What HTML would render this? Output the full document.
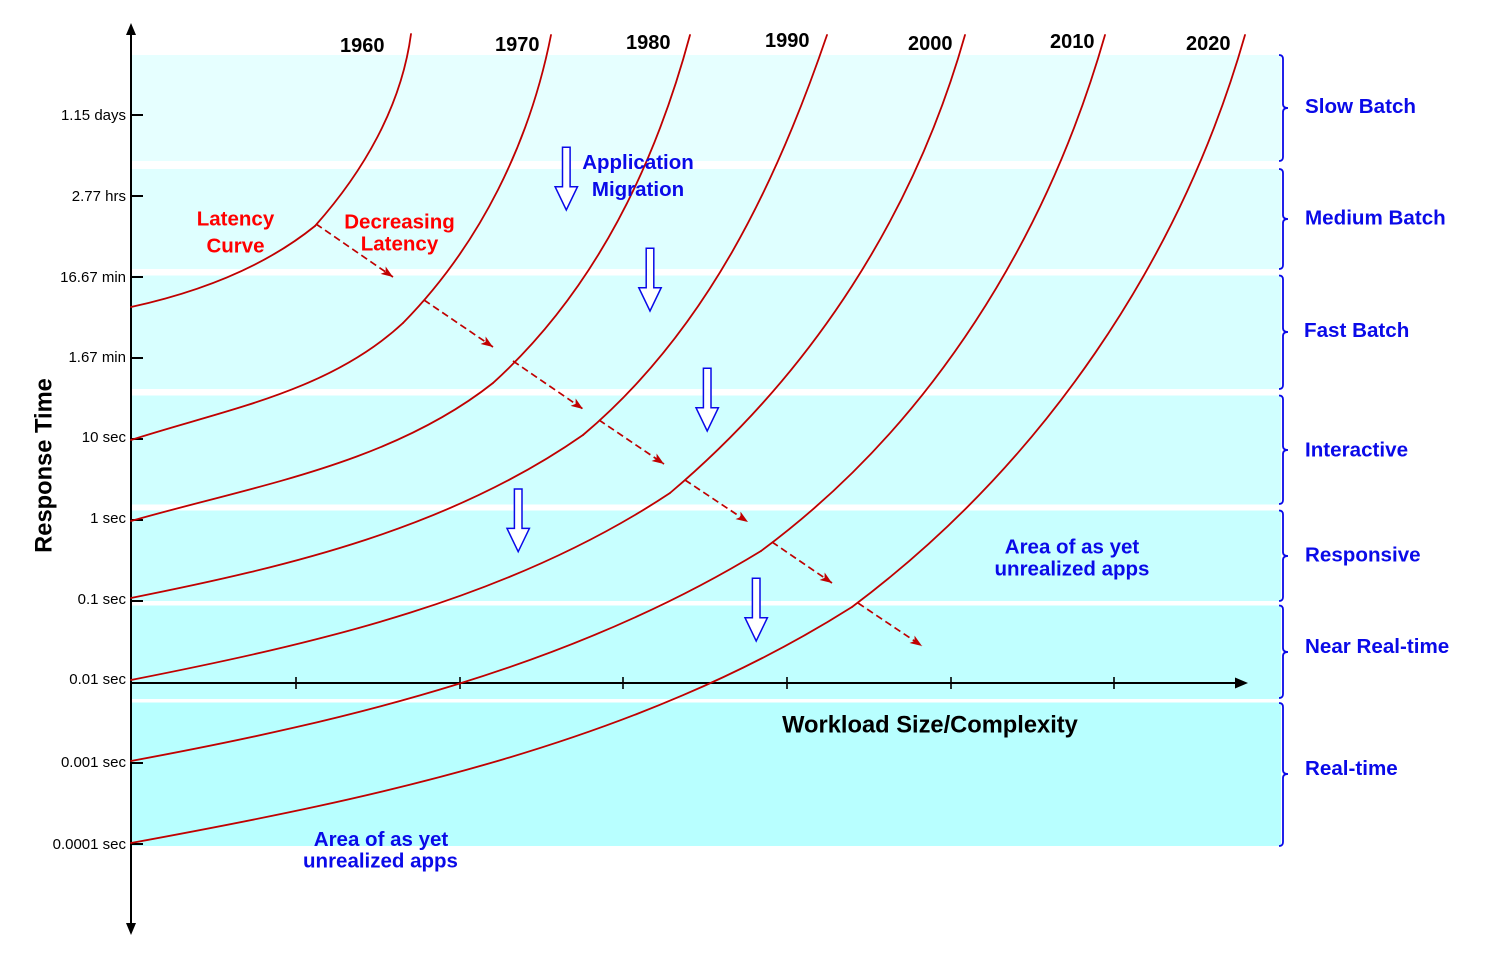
<!DOCTYPE html>
<html><head><meta charset="utf-8"><style>
html,body{margin:0;padding:0;background:#fff;}
svg{display:block;}
text{font-family:"Liberation Sans",Arial,sans-serif;}
</style></head><body>
<svg id="chart" width="1500" height="964" viewBox="0 0 1500 964" xmlns="http://www.w3.org/2000/svg">
<defs>
<marker id="ah" markerWidth="13" markerHeight="10" refX="12" refY="5" orient="auto" markerUnits="userSpaceOnUse">
<path d="M0,0.5 L12,5 L0,9.5 L3,5 Z" fill="#c00000"/>
</marker>
</defs>
<rect x="0" y="0" width="1500" height="964" fill="#fff"/>
<!-- bands -->
<rect x="132" y="55" width="1149" height="106" fill="#e6ffff"/>
<rect x="132" y="169" width="1149" height="100" fill="#dfffff"/>
<rect x="132" y="275.5" width="1149" height="113.5" fill="#d8ffff"/>
<rect x="132" y="395.5" width="1149" height="109" fill="#d0ffff"/>
<rect x="132" y="510.5" width="1149" height="90.5" fill="#c8ffff"/>
<rect x="132" y="605.5" width="1149" height="93.5" fill="#c0ffff"/>
<rect x="132" y="702.5" width="1149" height="143.5" fill="#b8ffff"/>

<!-- braces -->
<g fill="none" stroke="#0a0ae8" stroke-width="1.8">
<path d="M1279,55 Q1283,55 1283,59 L1283,104 Q1283,108 1288,108 Q1283,108 1283,112 L1283,157 Q1283,161 1279,161"/>
<path d="M1279,169 Q1283,169 1283,173 L1283,215 Q1283,219 1288,219 Q1283,219 1283,223 L1283,265 Q1283,269 1279,269"/>
<path d="M1279,275.5 Q1283,275.5 1283,279.5 L1283,328 Q1283,332 1288,332 Q1283,332 1283,336 L1283,385 Q1283,389 1279,389"/>
<path d="M1279,395.5 Q1283,395.5 1283,399.5 L1283,446 Q1283,450 1288,450 Q1283,450 1283,454 L1283,500 Q1283,504 1279,504"/>
<path d="M1279,510.5 Q1283,510.5 1283,514.5 L1283,552 Q1283,556 1288,556 Q1283,556 1283,560 L1283,597 Q1283,601 1279,601"/>
<path d="M1279,605.5 Q1283,605.5 1283,609.5 L1283,648 Q1283,652 1288,652 Q1283,652 1283,656 L1283,694 Q1283,698 1279,698"/>
<path d="M1279,703 Q1283,703 1283,707 L1283,770 Q1283,774 1288,774 Q1283,774 1283,778 L1283,842 Q1283,846 1279,846"/>
</g>

<!-- axes -->
<g stroke="#000" stroke-width="2">
<line x1="131" y1="33" x2="131" y2="925"/>
<line x1="131" y1="683" x2="1237" y2="683"/>
<line x1="131" y1="115" x2="143" y2="115"/>
<line x1="131" y1="196" x2="143" y2="196"/>
<line x1="131" y1="277" x2="143" y2="277"/>
<line x1="131" y1="358" x2="143" y2="358"/>
<line x1="131" y1="439" x2="143" y2="439"/>
<line x1="131" y1="520" x2="143" y2="520"/>
<line x1="131" y1="601" x2="143" y2="601"/>
<line x1="131" y1="763" x2="143" y2="763"/>
<line x1="131" y1="844" x2="143" y2="844"/>
</g>
<g stroke="#000" stroke-width="1.6">
<line x1="296" y1="677" x2="296" y2="689"/>
<line x1="460" y1="677" x2="460" y2="689"/>
<line x1="623" y1="677" x2="623" y2="689"/>
<line x1="787" y1="677" x2="787" y2="689"/>
<line x1="951" y1="677" x2="951" y2="689"/>
<line x1="1114" y1="677" x2="1114" y2="689"/>
</g>
<polygon points="131,23 126,35 136,35" fill="#000"/>
<polygon points="131,935 126,923 136,923" fill="#000"/>
<polygon points="1248,683 1235,677.5 1235,688.5" fill="#000"/>

<!-- y tick labels -->
<g font-size="15" fill="#000" text-anchor="end">
<text x="126" y="120">1.15 days</text>
<text x="126" y="201">2.77 hrs</text>
<text x="126" y="282">16.67 min</text>
<text x="126" y="362">1.67 min</text>
<text x="126" y="442">10 sec</text>
<text x="126" y="523">1 sec</text>
<text x="126" y="604">0.1 sec</text>
<text x="126" y="684">0.01 sec</text>
<text x="126" y="767">0.001 sec</text>
<text x="126" y="849">0.0001 sec</text>
</g>

<!-- curves (fallback polylines; replaced by fitted bezier paths via script) -->
<g id="curvesPoly" fill="none" stroke="#c00000" stroke-width="1.8" stroke-linejoin="round" stroke-linecap="round">
<polyline points="131,307 165,299 200,288 233,274 260,262 283,249 300,238 315,226 335,202 353,177 369,152 383,127 393,104 400,82 406,58 411,34"/>
<polyline points="131,440 180,426 233,409 287,391 333,371 360,357 382,340 403,323 424,300 440,280 460,253 480,223 500,189 513,158 523,131 533,103 543,70 551,35"/>
<polyline points="131,521 180,509 233,495 283,480 333,463 380,446 413,433 447,417 470,402 493,383 513,361 547,323 580,284 600,253 620,221 634,191 647,161 657,133 667,104 679,69 690,35"/>
<polyline points="131,598 180,588 233,576 283,564 333,550 380,535 447,510 513,477 550,457 583,435 599,420 623,394 647,369 670,344 693,317 713,287 733,253 750,220 765,187 784,145 801,103 815,68 827,35"/>
<polyline points="131,680 200,667 260,654 317,639 380,621 447,599 513,575 550,560 580,546 620,525 645,510 670,493 685,480 715,450 747,414 785,372 820,337 845,304 866,270 880,243 893,214 906,187 919,160 930,131 940,103 953,70 965,35"/>
<polyline points="131,761 210,745 293,728 380,707 460,683 533,660 600,631 680,597 725,572 761,551 771,542 810,512 852,477 899,420 922,390 950,354 980,314 1000,288 1012,270 1025,242 1037,214 1048,188 1058,163 1070,131 1080,103 1093,69 1105,35"/>
<polyline points="131,843 200,830 293,812 400,787 500,760 570,738 640,713 711,683 762,658 810,633 852,607 858,603 910,558 966,508 1010,462 1050,418 1067,391 1108,330 1148,270 1175,219 1200,163 1215,122 1230,78 1245,35"/>
</g>
<g id="curvesSmooth" fill="none" stroke="#c00000" stroke-width="1.8" stroke-linejoin="round" stroke-linecap="round"></g>

<!-- dashed arrows -->
<g stroke="#c00000" stroke-width="1.7" stroke-dasharray="7,4" fill="none" marker-end="url(#ah)">
<line x1="316" y1="224" x2="393" y2="277"/>
<line x1="424" y1="300" x2="493" y2="347"/>
<line x1="513" y1="361" x2="583" y2="409"/>
<line x1="599" y1="420" x2="664" y2="464"/>
<line x1="685" y1="480" x2="748" y2="522"/>
<line x1="772" y1="542" x2="832" y2="583"/>
<line x1="858" y1="603" x2="922" y2="646"/>
</g>

<!-- hollow blue arrows -->
<g fill="#fff" stroke="#0a0ae8" stroke-width="1.5" stroke-linejoin="miter">
<polygon points="562.5,147.3 570.1,147.3 570.1,186.7 577.5,186.7 566.3,210 555.1,186.7 562.5,186.7"/>
<polygon points="646.2,248.3 653.8,248.3 653.8,287.7 661.2,287.7 650,311 638.8,287.7 646.2,287.7"/>
<polygon points="703.4,368.3 711,368.3 711,407.7 718.4,407.7 707.2,431 696,407.7 703.4,407.7"/>
<polygon points="514.4,489 522,489 522,528.4 529.4,528.4 518.2,551.7 507,528.4 514.4,528.4"/>
<polygon points="752.4,578.3 760,578.3 760,617.7 767.4,617.7 756.2,641 745,617.7 752.4,617.7"/>
</g>

<!-- year labels -->
<g font-size="20" font-weight="bold" fill="#000">
<text x="340" y="52">1960</text>
<text x="495" y="51">1970</text>
<text x="626" y="49">1980</text>
<text x="765" y="47">1990</text>
<text x="908" y="50">2000</text>
<text x="1050" y="48">2010</text>
<text x="1186" y="50">2020</text>
</g>

<!-- red labels -->
<g font-size="20.5" font-weight="bold" fill="#ff0000" text-anchor="middle">
<text x="235.5" y="225.5">Latency</text>
<text x="235.5" y="252.5">Curve</text>
<text x="399.5" y="228.5">Decreasing</text>
<text x="399.5" y="250.5">Latency</text>
</g>

<!-- blue labels -->
<g font-size="20.5" font-weight="bold" fill="#0a0ae8" text-anchor="middle">
<text x="638" y="169">Application</text>
<text x="638" y="196">Migration</text>
<text x="1072" y="553.5">Area of as yet</text>
<text x="1072" y="575.5">unrealized apps</text>
<text x="381" y="846">Area of as yet</text>
<text x="380.5" y="867.5">unrealized apps</text>
</g>
<g font-size="20.6" font-weight="bold" fill="#0a0ae8">
<text x="1305" y="113">Slow Batch</text>
<text x="1305" y="224.5">Medium Batch</text>
<text x="1304" y="337">Fast Batch</text>
<text x="1305" y="456.5">Interactive</text>
<text x="1305" y="561.5">Responsive</text>
<text x="1305" y="653">Near Real-time</text>
<text x="1305" y="775">Real-time</text>
</g>

<!-- axis titles -->
<text x="930" y="732.5" font-size="23.7" font-weight="bold" fill="#000" text-anchor="middle">Workload Size/Complexity</text>
<text transform="translate(51.5,465.5) rotate(-90)" x="0" y="0" font-size="23.7" font-weight="bold" fill="#000" text-anchor="middle">Response Time</text>
</svg>
<script>
(function(){
  var kinks=[[315,226],[403,323],[493,383],[583,435],[670,493],[761,551],[852,607]];
  var polys=document.querySelectorAll('#curvesPoly polyline');
  var out=document.getElementById('curvesSmooth');
  var NS='http://www.w3.org/2000/svg';
  function bez(P0,C1,C2,P3,t){
    var u=1-t;
    var b0=u*u*u,b1=3*u*u*t,b2=3*u*t*t,b3=t*t*t;
    return [b0*P0[0]+b1*C1[0]+b2*C2[0]+b3*P3[0], b0*P0[1]+b1*C1[1]+b2*C2[1]+b3*P3[1]];
  }
  function fit(p){
    var n=p.length, P0=p[0], P3=p[n-1];
    if(n<3){return 'M'+P0+' L'+P3;}
    // chord-length parameterization
    var ts=[0],L=0;
    for(var i=1;i<n;i++){L+=Math.hypot(p[i][0]-p[i-1][0],p[i][1]-p[i-1][1]);ts.push(L);}
    ts=ts.map(function(v){return v/L;});
    var C1,C2;
    for(var iter=0;iter<6;iter++){
      var a11=0,a12=0,a22=0,rx1=0,rx2=0,ry1=0,ry2=0;
      for(var i=0;i<n;i++){
        var t=ts[i],u=1-t;
        var b0=u*u*u,b1=3*u*u*t,b2=3*u*t*t,b3=t*t*t;
        var rx=p[i][0]-b0*P0[0]-b3*P3[0], ry=p[i][1]-b0*P0[1]-b3*P3[1];
        a11+=b1*b1;a12+=b1*b2;a22+=b2*b2;
        rx1+=b1*rx;rx2+=b2*rx;ry1+=b1*ry;ry2+=b2*ry;
      }
      var det=a11*a22-a12*a12;
      C1=[(rx1*a22-rx2*a12)/det,(ry1*a22-ry2*a12)/det];
      C2=[(a11*rx2-a12*rx1)/det,(a11*ry2-a12*ry1)/det];
      // reparameterize: nearest t by sampling refinement
      for(var i=1;i<n-1;i++){
        var best=ts[i],bd=1e9;
        for(var s=-40;s<=40;s++){
          var tt=Math.min(1,Math.max(0,ts[i]+s*0.0025));
          var q=bez(P0,C1,C2,P3,tt);
          var d=(q[0]-p[i][0])*(q[0]-p[i][0])+(q[1]-p[i][1])*(q[1]-p[i][1]);
          if(d<bd){bd=d;best=tt;}
        }
        ts[i]=best;
      }
    }
    function f(v){return v.toFixed(2);}
    return 'M'+P0[0]+','+P0[1]+' C'+f(C1[0])+','+f(C1[1])+' '+f(C2[0])+','+f(C2[1])+' '+P3[0]+','+P3[1];
  }
  var ok=true;
  try{
    for(var k=0;k<polys.length;k++){
      var pts=polys[k].getAttribute('points').trim().split(/\s+/).map(function(s){var a=s.split(',');return [parseFloat(a[0]),parseFloat(a[1])];});
      var ki=0;
      for(var j=0;j<pts.length;j++){if(pts[j][0]===kinks[k][0]&&pts[j][1]===kinks[k][1]){ki=j;break;}}
      var segs=ki>0?[pts.slice(0,ki+1),pts.slice(ki)]:[pts];
      segs.forEach(function(s){
        var d=fit(s);
        if(d.indexOf('NaN')>=0) throw 'nan';
        var path=document.createElementNS(NS,'path');
        path.setAttribute('d',d);
        out.appendChild(path);
      });
    }
  }catch(e){ok=false; while(out.firstChild) out.removeChild(out.firstChild);}
  if(ok){document.getElementById('curvesPoly').style.display='none';}
})();
</script>
</body></html>
